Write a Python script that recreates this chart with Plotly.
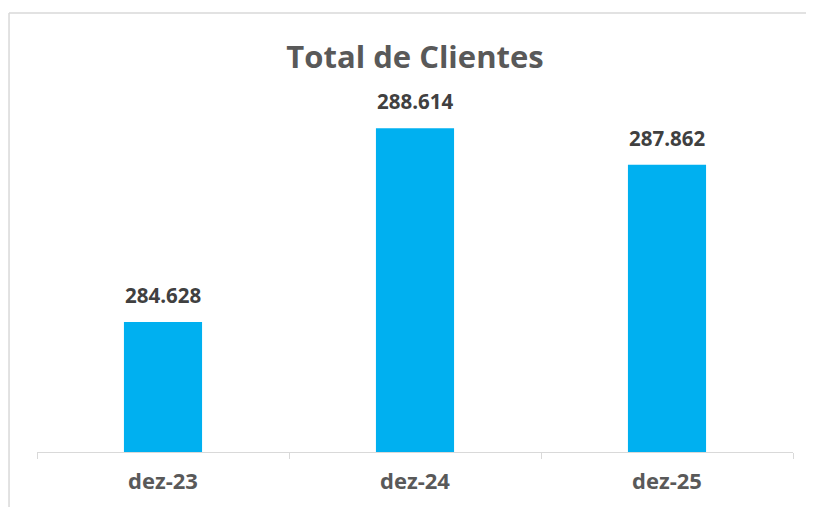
import plotly.graph_objects as go

categorias = ['dez-23', 'dez-24', 'dez-25']
total_clientes = [284628, 288614, 287862]

cor_barra = '#00B0F0'
cor_texto = '#595959'
fonte = 'Open Sans'

fig = go.Figure(data=[
    go.Bar(x=categorias,
           y=total_clientes,
           marker_color=cor_barra,
           marker_line_width=0,
           width=0.31)
])

# rótulos de dados acima das barras
for cat, val in zip(categorias, total_clientes):
    fig.add_annotation(x=cat, y=val,
                       text=f'{val:,}'.replace(',', '.'),
                       showarrow=False, yanchor='bottom', yshift=11,
                       font=dict(family=fonte, size=20.5, color='#404040',
                                 weight='bold'))

fig.update_layout(
    width=814, height=507,
    margin=dict(l=29, r=29, t=104, b=63),
    paper_bgcolor='white', plot_bgcolor='white',
    showlegend=False,
    title=dict(text='<b>Total de Clientes</b>', x=0.5, xanchor='center',
               y=1 - 49 / 507, yanchor='middle',
               font=dict(family=fonte, size=31, color=cor_texto)),
    font=dict(family=fonte, color=cor_texto),
)

fig.update_xaxes(showline=True, linecolor='#D9D9D9', linewidth=1,
                 ticks='outside', tickson='boundaries', ticklen=6,
                 tickcolor='#D9D9D9', showgrid=False, ticklabelstandoff=10,
                 tickfont=dict(family=fonte, size=22, color=cor_texto,
                               weight='bold'))
fig.update_yaxes(range=[281950, 288950], visible=False, showgrid=False)

# borda da área do gráfico
fig.add_shape(type='line', xref='paper', yref='paper',
              x0=-0.037, x1=1.2, y0=1.291, y1=1.291,
              line=dict(color='#D9D9D9', width=1.5))
fig.add_shape(type='line', xref='paper', yref='paper',
              x0=-0.037, x1=-0.037, y0=-0.3, y1=1.291,
              line=dict(color='#D9D9D9', width=1.5))

fig.write_html('out.html')
